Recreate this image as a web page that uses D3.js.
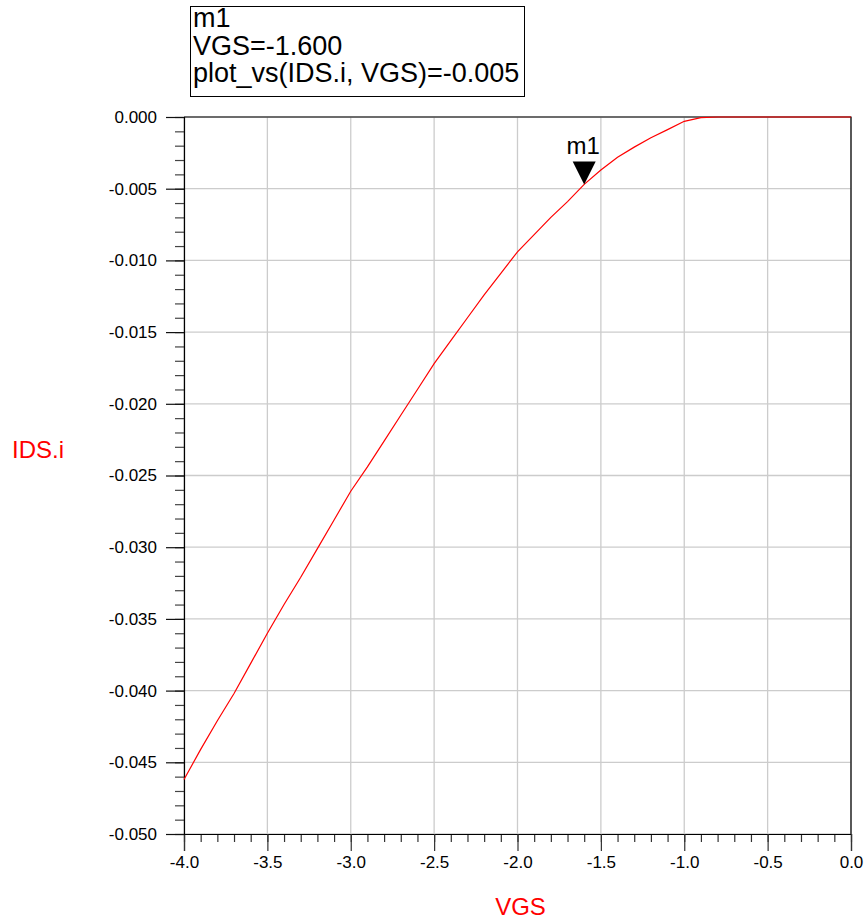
<!DOCTYPE html>
<html>
<head>
<meta charset="utf-8">
<script src="https://cdn.jsdelivr.net/npm/d3@7"></script>
<style>
  body { margin: 0; background: #fff; }
  svg { display: block; font-family: 'Liberation Sans', Arial, sans-serif; }
</style>
</head>
<body>
<div id="chart"></div>
<script>
// VGS sweep (V) and drain current IDS.i (A)
const vgs = [
  -4.0, -3.9, -3.8, -3.7, -3.6, -3.5, -3.4, -3.3, -3.2, -3.1,
  -3.0, -2.9, -2.8, -2.7, -2.6, -2.5, -2.4, -2.3, -2.2, -2.1,
  -2.0, -1.9, -1.8, -1.7, -1.6, -1.5, -1.4, -1.3, -1.2, -1.1,
  -1.0, -0.9, -0.8, -0.7, -0.6, -0.5, -0.4, -0.3, -0.2, -0.1, 0.0,
];
const ids = [
  -0.0462, -0.0441, -0.0421, -0.0402, -0.0381, -0.0360, -0.0340, -0.0321, -0.0301, -0.0281,
  -0.0261, -0.0244, -0.0226, -0.0208, -0.0190, -0.0172, -0.0156, -0.0140, -0.0124, -0.0109,
  -0.0094, -0.0082, -0.0070, -0.0059, -0.0047, -0.0037, -0.0028, -0.0021, -0.00145, -0.00088,
  -0.0003, -0.00005, 0, 0, 0, 0, 0, 0, 0, 0, 0,
];

const xTicks = [-4.0, -3.5, -3.0, -2.5, -2.0, -1.5, -1.0, -0.5, 0.0];
const yTicks = [-0.050, -0.045, -0.040, -0.035, -0.030, -0.025, -0.020, -0.015, -0.010, -0.005, 0.000];

const markerName = 'm1';
const markerVgs = -1.6;
const markerLines = ['m1', 'VGS=-1.600', 'plot_vs(IDS.i, VGS)=-0.005'];

const size = { width: 866, height: 924 };
const margin = { top: 117, right: 15, bottom: 90, left: 184 };

const data = vgs.map((v, i) => ({ v, i: ids[i] }));

const svg = d3.select('#chart')
  .append('svg')
  .attr('width', size.width)
  .attr('height', size.height);

const x = d3.scaleLinear()
  .domain([-4, 0])
  .range([margin.left, size.width - margin.right]);

const y = d3.scaleLinear()
  .domain([-0.05, 0])
  .range([size.height - margin.bottom, margin.top]);

const [x0, x1] = x.range();
const [y1, y0] = y.range();

// grid
svg.append('g')
  .selectAll('line.vg')
  .data(xTicks)
  .join('line')
  .attr('x1', (d) => x(d)).attr('x2', (d) => x(d))
  .attr('y1', y0).attr('y2', y1)
  .attr('stroke', '#cccccc')
  .attr('stroke-width', 1.3);

svg.append('g')
  .selectAll('line.hg')
  .data(yTicks)
  .join('line')
  .attr('x1', x0).attr('x2', x1)
  .attr('y1', (d) => y(d)).attr('y2', (d) => y(d))
  .attr('stroke', '#cccccc')
  .attr('stroke-width', 1.3);

// frame (top + right)
svg.append('path')
  .attr('d', `M${x0},${y0}H${x1}V${y1}`)
  .attr('fill', 'none')
  .attr('stroke', '#000')
  .attr('stroke-width', 1.2);

// minor ticks
svg.append('g')
  .attr('transform', `translate(0,${y1})`)
  .call(d3.axisBottom(x).ticks(40).tickSize(8).tickFormat(''))
  .call((g) => g.select('.domain').remove())
  .call((g) => g.selectAll('line').attr('stroke', '#333').attr('stroke-width', 1.2));

svg.append('g')
  .attr('transform', `translate(${x0},0)`)
  .call(d3.axisLeft(y).ticks(50).tickSize(9).tickFormat(''))
  .call((g) => g.select('.domain').remove())
  .call((g) => g.selectAll('line').attr('stroke', '#444').attr('stroke-width', 1.2));

// major axes
svg.append('g')
  .attr('transform', `translate(0,${y1})`)
  .call(d3.axisBottom(x).tickValues(xTicks).tickSize(17).tickPadding(5)
    .tickFormat((d) => d.toFixed(1)))
  .call((g) => g.select('.domain').attr('stroke', '#000').attr('stroke-width', 1.2))
  .call((g) => g.selectAll('line').attr('stroke', '#333').attr('stroke-width', 1.2))
  .call((g) => g.selectAll('text')
    .attr('fill', '#000')
    .attr('font-size', '17px')
    .attr('font-family', 'Liberation Sans, Arial, sans-serif'));

svg.append('g')
  .attr('transform', `translate(${x0},0)`)
  .call(d3.axisLeft(y).tickValues(yTicks).tickSize(18).tickPadding(9)
    .tickFormat((d) => d.toFixed(3)))
  .call((g) => g.select('.domain').attr('stroke', '#000').attr('stroke-width', 1.2))
  .call((g) => g.selectAll('line').attr('stroke', '#111').attr('stroke-width', 1.2))
  .call((g) => g.selectAll('text')
    .attr('fill', '#000')
    .attr('font-size', '17px')
    .attr('font-family', 'Liberation Sans, Arial, sans-serif'));

// axis titles
svg.append('text')
  .text('IDS.i')
  .attr('x', 12)
  .attr('y', 458)
  .attr('font-size', '24px')
  .attr('fill', '#ff0000');

svg.append('text')
  .text('VGS')
  .attr('x', (x0 + x1) / 2 + 3)
  .attr('y', 915)
  .attr('text-anchor', 'middle')
  .attr('font-size', '24px')
  .attr('fill', '#ff0000');

// curve
const line = d3.line()
  .x((d) => x(d.v))
  .y((d) => y(d.i));

svg.append('path')
  .datum(data)
  .attr('d', line)
  .attr('fill', 'none')
  .attr('stroke', '#ff0000')
  .attr('stroke-width', 1.2);

// marker
const mk = data.find((d) => Math.abs(d.v - markerVgs) < 1e-9);
const mx = x(mk.v);
const my = y(mk.i);

svg.append('path')
  .attr('d', `M${mx - 11.5},${my - 23}L${mx + 11.5},${my - 23}L${mx},${my}Z`)
  .attr('fill', '#000');

svg.append('text')
  .text(markerName)
  .attr('x', mx - 1)
  .attr('y', my - 30)
  .attr('text-anchor', 'middle')
  .attr('font-size', '24px')
  .attr('fill', '#000');

// marker readout box
svg.append('rect')
  .attr('x', 190.5)
  .attr('y', 6.5)
  .attr('width', 334)
  .attr('height', 90)
  .attr('fill', '#fff')
  .attr('stroke', '#000')
  .attr('stroke-width', 1);

svg.append('g')
  .selectAll('text')
  .data(markerLines)
  .join('text')
  .text((d) => d)
  .attr('x', 193)
  .attr('y', (d, i) => 27 + i * 27.7)
  .attr('font-size', '27px')
  .attr('fill', '#000');
</script>
</body>
</html>
